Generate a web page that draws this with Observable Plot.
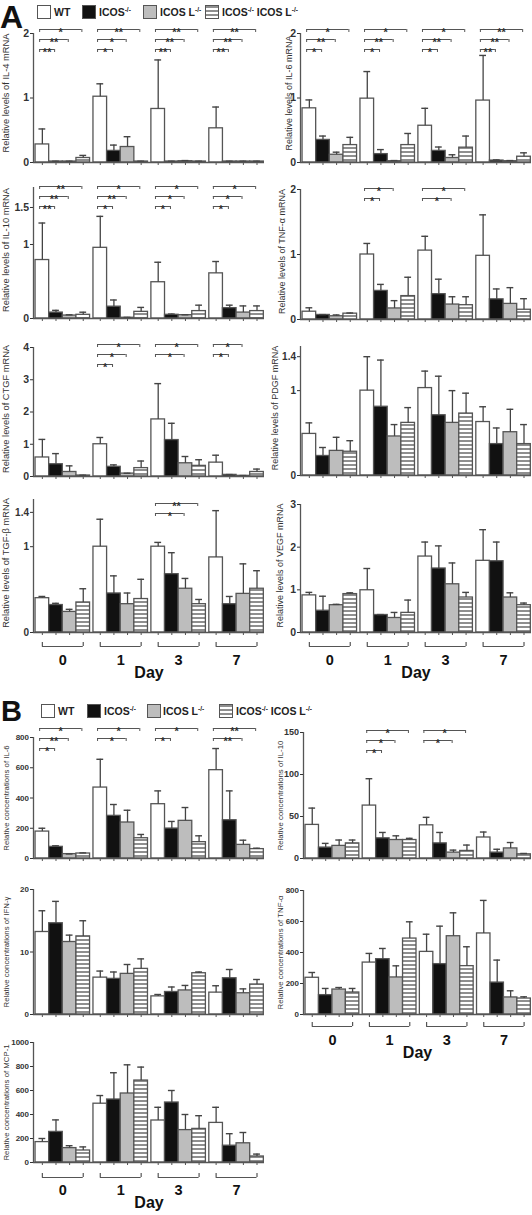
<!DOCTYPE html>
<html><head><meta charset="utf-8">
<script src="https://cdn.jsdelivr.net/npm/d3@7"></script>
<script src="https://cdn.jsdelivr.net/npm/@observablehq/plot@0.6"></script>
<style>
body{margin:0;background:#fff;font-family:"Liberation Sans",Arial,Helvetica,sans-serif;}
#root{position:relative;width:532px;height:1215px;overflow:hidden;background:#fff;}
.big{position:absolute;font-weight:bold;color:#111;line-height:1;}
.lgbox{position:absolute;width:14px;height:14px;border:1.4px solid #555;box-sizing:border-box;}
.lgtxt{position:absolute;font-weight:bold;font-size:10.5px;color:#222;white-space:nowrap;line-height:14px;}
.lgtxt sup{font-size:6.5px;vertical-align:4px;line-height:0;}
</style></head>
<body>
<svg width="0" height="0" style="position:absolute">
  <defs>
    <pattern id="stripes" patternUnits="userSpaceOnUse" width="4" height="4">
      <rect width="4" height="4" fill="#ffffff"></rect>
      <rect y="0" width="4" height="2" fill="#8f8f8f"></rect>
    </pattern>
  </defs>
</svg>
<div id="root"></div>
<script>
// ---------- data ----------
const days = ["0", "1", "3", "7"];
const genotypes = ["WT", "ICOS-/-", "ICOS L-/-", "ICOS-/- ICOS L-/-"];

// means / upper error ends, listed day by day in genotype order
const il4Mean  = [0.28,0.015,0.015,0.07, 1.02,0.18,0.24,0.015, 0.83,0.015,0.02,0.015, 0.53,0.015,0.015,0.015];
const il4Upper = [0.52,0.02,0.02,0.11, 1.22,0.27,0.40,0.02, 1.59,0.02,0.03,0.02, 0.86,0.02,0.02,0.02];
const il4Sig = [[0,3,"*"],[0,2,"**"],[0,1,"**"],[1,3,"**"],[1,2,"*"],[1,1,"*"],[2,3,"**"],[2,2,"**"],[2,1,"**"],[3,3,"**"],[3,2,"**"],[3,1,"**"]];

const il6Mean  = [0.84,0.35,0.12,0.27, 0.99,0.13,0.02,0.27, 0.57,0.18,0.07,0.23, 0.96,0.03,0.02,0.09];
const il6Upper = [0.97,0.41,0.16,0.39, 1.41,0.20,0.03,0.45, 0.84,0.24,0.12,0.41, 1.66,0.04,0.03,0.15];
const il6Sig = [[0,3,"*"],[0,2,"**"],[0,1,"*"],[1,3,"*"],[1,2,"**"],[1,1,"*"],[2,3,"*"],[2,2,"**"],[2,1,"*"],[3,3,"**"],[3,2,"**"],[3,1,"**"]];

const il10Mean  = [0.79,0.08,0.04,0.05, 0.955,0.16,0.01,0.09, 0.49,0.05,0.045,0.10, 0.61,0.14,0.08,0.10];
const il10Upper = [1.29,0.11,0.05,0.085, 1.38,0.25,0.015,0.15, 0.76,0.06,0.05,0.18, 0.77,0.18,0.17,0.17];
const il10Sig = [[0,3,"**"],[0,2,"**"],[0,1,"**"],[1,3,"*"],[1,2,"**"],[1,1,"*"],[2,3,"*"],[2,2,"*"],[2,1,"*"],[3,3,"*"],[3,2,"*"],[3,1,"*"]];

const tnfMean  = [0.12,0.07,0.05,0.09, 1.0,0.44,0.17,0.36, 1.06,0.39,0.23,0.22, 0.98,0.31,0.24,0.15];
const tnfUpper = [0.18,0.075,0.07,0.10, 1.17,0.54,0.29,0.65, 1.28,0.62,0.35,0.35, 1.61,0.47,0.49,0.32];
const tnfSig = [[1,2,"*"],[1,1,"*"],[2,3,"*"],[2,2,"*"]];

const ctgfMean  = [0.59,0.38,0.14,0.03, 1.0,0.30,0.09,0.26, 1.77,1.13,0.41,0.33, 0.43,0.05,0.02,0.14];
const ctgfUpper = [1.15,0.71,0.33,0.04, 1.21,0.36,0.10,0.48, 2.88,1.65,0.62,0.52, 0.66,0.06,0.03,0.23];
const ctgfSig = [[1,3,"*"],[1,2,"*"],[1,1,"*"],[2,3,"*"],[2,2,"*"],[3,2,"*"],[3,1,"*"]];

const pdgfMean  = [0.49,0.23,0.29,0.28, 1.0,0.81,0.46,0.62, 1.03,0.71,0.62,0.73, 0.63,0.37,0.51,0.37];
const pdgfUpper = [0.62,0.33,0.45,0.41, 1.40,1.36,0.60,0.80, 1.23,1.17,1.0,0.97, 0.81,0.56,0.78,0.60];

const tgfMean  = [0.40,0.32,0.24,0.35, 1.0,0.455,0.33,0.39, 1.0,0.68,0.51,0.33, 0.875,0.33,0.45,0.51];
const tgfUpper = [0.42,0.34,0.27,0.51, 1.32,0.66,0.46,0.62, 1.05,0.93,0.63,0.385, 1.42,0.42,0.80,0.72];
const tgfSig = [[2,3,"**"],[2,2,"*"]];

const vegfMean  = [0.87,0.51,0.64,0.90, 0.99,0.41,0.34,0.46, 1.78,1.50,1.13,0.82, 1.68,1.67,0.82,0.64];
const vegfUpper = [0.94,0.85,0.66,0.93, 1.50,0.42,0.47,0.76, 2.12,2.03,1.63,0.94, 2.41,2.12,0.93,0.69];

const bIl6Mean  = [178,77,29,33, 469,282,238,134, 359,198,249,108, 584,253,90,62];
const bIl6Upper = [200,84,30,37, 656,357,319,159, 447,245,337,150, 727,447,121,68];
const bIl6Sig = [[0,3,"*"],[0,2,"**"],[0,1,"*"],[1,3,"*"],[1,2,"*"],[2,3,"*"],[2,1,"*"],[3,3,"**"],[3,2,"**"]];

const bIl10Mean  = [40,13,15,18, 63,24,22,22, 39.5,18,7,9, 25,7,12,5];
const bIl10Upper = [60,18,22,22, 95,31,27,24, 49,31,10,16, 31.5,11,19,6];
const bIl10Sig = [[1,3,"*"],[1,2,"*"],[1,1,"*"],[2,3,"*"],[2,2,"*"]];

const ifnMean  = [13.2,14.6,11.6,12.5, 5.9,5.7,6.5,7.3, 2.9,3.6,3.85,6.6, 3.5,5.8,3.4,4.8];
const ifnUpper = [16.6,18.1,12.7,15.0, 6.95,6.8,8.0,8.9, 3.2,4.4,4.65,6.8, 4.6,7.2,4.1,5.6];

const bTnfMean  = [237,125,161,142, 335,357,239,490, 404,325,505,312, 523,206,110,103];
const bTnfUpper = [271,168,174,168, 394,426,314,598, 518,570,656,437, 736,351,153,114];

const mcpMean  = [170,255,120,100, 490,525,575,683, 350,500,270,280, 330,140,160,50];
const mcpUpper = [200,355,140,130, 558,748,814,795, 460,600,400,390, 460,240,250,70];

// ---------- drawing ----------
const FILLS = ["#ffffff", "#111111", "#bdbdbd", "url(#stripes)"];
const GROUP = 4.25;
const pos = (d, g) => d * GROUP + g;
const XDOM = [-0.15, 16.8];
const root = document.getElementById("root");

function makePanel(cfg) {
  const data = cfg.mean.map((m, i) => ({d: Math.floor(i / 4), g: i % 4, mean: m, upper: cfg.upper[i]}));
  const plotH = cfg.zeroY - cfg.topY;
  const upp = cfg.yMax / plotH;
  const mt = 14;
  const mb = cfg.dayDy ? 56 : 6;
  const marks = [];
  for (let gi = 0; gi < 4; gi++) {
    marks.push(Plot.rect(data.filter(r => r.g === gi), {
      x1: r => pos(r.d, r.g), x2: r => pos(r.d, r.g) + 1,
      y1: () => 0, y2: "mean",
      fill: FILLS[gi], stroke: "#555", strokeWidth: 1.3
    }));
  }
  marks.push(Plot.ruleX(data, {x: r => pos(r.d, r.g) + 0.5, y1: "mean", y2: "upper", stroke: "#444", strokeWidth: 1.3}));
  marks.push(Plot.ruleY(data, {y: "upper", x1: r => pos(r.d, r.g) + 0.25, x2: r => pos(r.d, r.g) + 0.75, stroke: "#444", strokeWidth: 1.4}));
  marks.push(Plot.ruleY([0], {stroke: "#555", strokeWidth: 1.3}));
  marks.push(Plot.ruleX([XDOM[0]], {y1: () => 0, y2: () => cfg.yMax, stroke: "#555", strokeWidth: 1.3}));
  marks.push(Plot.axisY({ticks: cfg.ticks, tickSize: 3, tickPadding: 1.5, fontSize: cfg.tickFont, fontWeight: "bold",
    tickFormat: d => String(d), label: null, color: "#333"}));
  marks.push(Plot.axisX({ticks: data.map(r => pos(r.d, r.g) + 0.5), tickSize: 3, tickFormat: () => "", label: null, color: "#555"}));
  marks.push(Plot.text([cfg.label], {frameAnchor: "left", textAnchor: "middle", rotate: -90, dx: -cfg.labelOff, dy: cfg.labelDy ?? 0,
    fontSize: cfg.labelFont, fill: "#333", text: d => d}));

  if (cfg.sig) {
    const levels = {};
    const sig = cfg.sig.slice().sort((a, b) => a[0] - b[0] || b[1] - a[1]).map(([d, g, label]) => {
      levels[d] = (levels[d] ?? -1) + 1;
      const lvl = levels[d];
      return {
        xa: pos(d, 0) + 0.3,
        xb: pos(d, g) + 0.4,
        y: cfg.yMax + (cfg.lift ?? 3) * upp - lvl * 10 * upp,
        label
      };
    });
    marks.push(Plot.ruleY(sig, {y: "y", x1: "xa", x2: "xb", stroke: "#555", strokeWidth: 1}));
    marks.push(Plot.ruleX(sig, {x: "xa", y1: "y", y2: r => r.y - 3 * upp, stroke: "#555", strokeWidth: 1}));
    marks.push(Plot.ruleX(sig, {x: "xb", y1: "y", y2: r => r.y - 3 * upp, stroke: "#555", strokeWidth: 1}));
    marks.push(Plot.text(sig, {x: r => (r.xa + r.xb) / 2, y: "y", text: "label", lineAnchor: "top", dy: -1,
      fontSize: 11, fontWeight: "bold", fill: "#333"}));
  }

  if (cfg.dayDy) {
    const [bDy, lDy, dDy] = cfg.dayDy;
    const dayRows = days.map((day, d) => ({day, a: pos(d, 0) + 0.5, b: pos(d, 3) + 0.5, c: pos(d, 0) + 2}));
    marks.push(Plot.ruleY(dayRows, {y: () => 0, x1: "a", x2: "b", dy: bDy, stroke: "#555", strokeWidth: 1.2}));
    marks.push(Plot.ruleX(dayRows, {x: "a", y1: () => 0, y2: () => 4 * upp, dy: bDy, stroke: "#555", strokeWidth: 1.2}));
    marks.push(Plot.ruleX(dayRows, {x: "b", y1: () => 0, y2: () => 4 * upp, dy: bDy, stroke: "#555", strokeWidth: 1.2}));
    marks.push(Plot.text(dayRows, {x: "c", y: () => 0, text: "day", dy: lDy, fontSize: 14.5, fontWeight: "bold", fill: "#111"}));
    marks.push(Plot.text(["Day"], {frameAnchor: "bottom", dy: dDy, text: d => d, fontSize: 16, fontWeight: "bold", fill: "#111"}));
  }

  const svg = Plot.plot({
    width: cfg.width, height: mt + plotH + mb,
    marginLeft: cfg.ml, marginRight: cfg.width - cfg.ml - cfg.frameW, marginTop: mt, marginBottom: mb,
    x: {domain: XDOM},
    y: {domain: [0, cfg.yMax]},
    style: {background: "transparent", overflow: "visible", fontFamily: "'Liberation Sans', Arial, sans-serif"},
    marks
  });
  svg.style.position = "absolute";
  svg.style.left = cfg.left + "px";
  svg.style.top = (cfg.topY - mt) + "px";
  root.appendChild(svg);
}

const L = {left: 0, width: 266, ml: 33, frameW: 231, labelOff: 27};
const R = {left: 268, width: 264, ml: 32, frameW: 231, labelOff: 11};
const RB = {left: 268, width: 264, ml: 35, frameW: 228, labelOff: 23};

const panels = [
  {...L, label: "Relative levels of IL-4 mRNA", mean: il4Mean, upper: il4Upper, sig: il4Sig, topY: 33, zeroY: 162, yMax: 2, ticks: [0,1,2], tickFont: 10.5, labelFont: 9.3, labelDy: -5, lift: 4},
  {...R, label: "Relative levels of IL-6 mRNA", mean: il6Mean, upper: il6Upper, sig: il6Sig, topY: 33, zeroY: 162, yMax: 2, ticks: [0,1,2], tickFont: 10.5, labelFont: 9, labelOff: 11, labelDy: -5, lift: 4},
  {...L, label: "Relative levels of IL-10 mRNA", mean: il10Mean, upper: il10Upper, sig: il10Sig, topY: 187, zeroY: 318, yMax: 1.77, ticks: [0,1,1.5], tickFont: 10.5, labelFont: 9.3, labelDy: -3, lift: 1},
  {...R, label: "Relative levels of TNF-\u03b1 mRNA", mean: tnfMean, upper: tnfUpper, sig: tnfSig, topY: 189, zeroY: 319, yMax: 2, ticks: [0,1,2], tickFont: 10.5, labelFont: 9, labelOff: 18, labelDy: -3, lift: 1},
  {...L, label: "Relative levels of CTGF mRNA", mean: ctgfMean, upper: ctgfUpper, sig: ctgfSig, topY: 347, zeroY: 476, yMax: 4, ticks: [0,1,2,3,4], tickFont: 10.5, labelFont: 9.3, labelDy: -3, lift: 3},
  {...R, label: "Relative levels of PDGF mRNA", mean: pdgfMean, upper: pdgfUpper, topY: 346, zeroY: 475, yMax: 1.52, ticks: [0,1,1.4], tickFont: 10, labelFont: 9, labelOff: 25, labelDy: -3},
  {...L, label: "Relative levels of TGF-\u03b2 mRNA", mean: tgfMean, upper: tgfUpper, sig: tgfSig, topY: 499, zeroY: 632, yMax: 1.55, ticks: [0,1,1.4], tickFont: 10, labelFont: 9.3, labelDy: -3, lift: -4, dayDy: [14, 28, 45]},
  {...R, label: "Relative levels of VEGF mRNA", mean: vegfMean, upper: vegfUpper, topY: 504, zeroY: 632, yMax: 3, ticks: [0,1,2,3], tickFont: 10.5, labelFont: 9, labelOff: 20, labelDy: -3, dayDy: [14, 28, 45]},
  {...L, label: "Relative concentrations of IL-6", mean: bIl6Mean, upper: bIl6Upper, sig: bIl6Sig, topY: 737, zeroY: 858, yMax: 800, ticks: [0,200,400,600,800], tickFont: 8, labelFont: 7.8, lift: 9},
  {...RB, label: "Relative concentrations of IL-10", mean: bIl10Mean, upper: bIl10Upper, sig: bIl10Sig, topY: 732, zeroY: 858, yMax: 150, ticks: [0,50,100,150], tickFont: 9, labelFont: 7.8, lift: 2},
  {...L, label: "Relative concentrations of IFN-\u03b3", mean: ifnMean, upper: ifnUpper, topY: 889, zeroY: 1014, yMax: 20, ticks: [0,10,20], tickFont: 8, labelFont: 7.8},
  {...RB, label: "Relative concentrations of TNF-\u03b1", mean: bTnfMean, upper: bTnfUpper, topY: 890, zeroY: 1014, yMax: 800, ticks: [0,200,400,600,800], tickFont: 8, labelFont: 7.8, dayDy: [12, 26, 43]},
  {...L, label: "Relative concentrations of MCP-1", mean: mcpMean, upper: mcpUpper, topY: 1042, zeroY: 1162, yMax: 1000, ticks: [0,200,400,600,800,1000], tickFont: 8, labelFont: 7.8, dayDy: [15, 28, 45]}
];
panels.forEach(makePanel);

// ---------- panel letters & legends ----------
function addText(cls, txt, x, y, size) {
  const el = document.createElement("div");
  el.className = cls; el.textContent = txt;
  el.style.left = x + "px"; el.style.top = y + "px"; el.style.fontSize = size + "px";
  root.appendChild(el);
}
addText("big", "A", 0, 1, 32);
addText("big", "B", 1, 697, 29);

const legendLabels = ["WT", "ICOS<sup>-/-</sup>", "ICOS L<sup>-/-</sup>", "ICOS<sup>-/-</sup> ICOS L<sup>-/-</sup>"];
function addLegend(boxX, txtX, y) {
  genotypes.forEach((g, i) => {
    const b = document.createElement("div");
    b.className = "lgbox";
    b.style.left = boxX[i] + "px"; b.style.top = y + "px";
    if (i === 3) {
      b.style.background = "repeating-linear-gradient(to bottom, #8f8f8f 0px, #8f8f8f 2px, #ffffff 2px, #ffffff 4px)";
    } else b.style.background = FILLS[i];
    root.appendChild(b);
    const t = document.createElement("div");
    t.className = "lgtxt";
    t.innerHTML = legendLabels[i];
    t.style.left = txtX[i] + "px"; t.style.top = y + "px";
    root.appendChild(t);
  });
}
addLegend([37, 82, 143, 205], [54, 99, 160, 222], 5);
addLegend([41, 87, 147, 219], [58, 104, 163, 236], 704);
</script>
</body></html>
